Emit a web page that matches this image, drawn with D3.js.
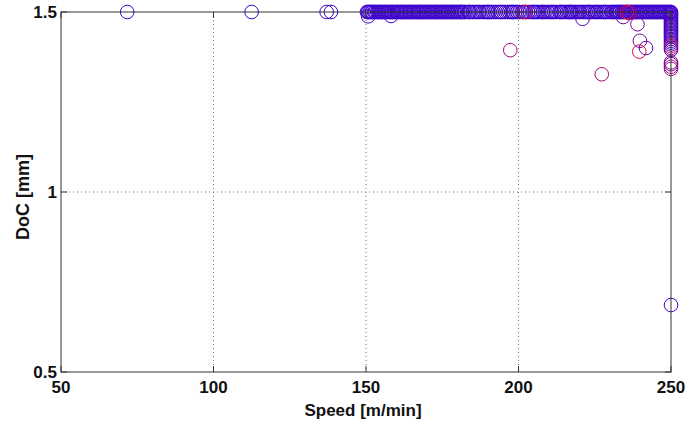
<html>
<head>
<style>
  body { margin: 0; background: #fff; }
  text { font-family: "Liberation Sans", Arial, sans-serif; font-weight: bold; fill: #111; }
</style>
</head>
<body>
  <script src="https://d3js.org/d3.v7.min.js"></script>
  <div id="div1"></div>
  <script>
    // tick labels
    const xTicks = [50, 100, 150, 200, 250];
    const yTicks = [0.5, 1, 1.5];

    // speeds of all points sitting at DoC = 1.5 mm
    const topSpeeds = [71.7, 112.5, 137.1, 138.5,
      150.3, 150.6, 150.8, 151.2, 151.5, 151.9, 152.1, 152.6, 152.9, 153.2, 153.7, 154.0, 154.3, 154.8, 155.1, 155.4,
      155.9, 156.2, 156.5, 156.9, 157.3, 157.6, 158.0, 158.4, 158.7, 159.1, 159.4, 159.9, 160.2, 160.5, 160.9, 161.3,
      161.6, 162.0, 162.3, 162.8, 163.1, 163.4, 163.9, 164.2, 164.6, 164.9, 165.4, 165.7, 166.0, 166.5, 166.8, 167.2,
      167.5, 167.9, 168.3, 168.6, 169.0, 169.4, 169.7, 170.2, 170.5, 170.8, 171.3, 171.6, 172.0, 172.4, 172.7, 173.1,
      173.5, 173.8, 174.3, 174.6, 175.0, 175.3, 175.8, 176.1, 176.5, 176.9, 177.2, 177.7, 178.0, 178.3, 178.8, 179.1,
      179.5, 179.9, 180.2, 180.7, 181.0, 181.4, 181.7, 182.2, 182.6,
      183.5, 183.8, 184.2, 185.0, 185.6, 186.2, 186.9, 187.3, 188.0, 188.6, 189.2, 189.8, 190.1, 190.5, 191.2, 191.8,
      192.5, 193.2, 193.9, 194.3, 195.0, 195.7, 196.4, 197.0, 197.6, 198.0, 198.3, 199.0, 199.6, 200.3, 201.3, 201.7,
      202.4, 203.1, 203.8, 204.6, 205.0, 205.4, 206.0, 206.6, 207.3, 207.9, 208.2, 208.8, 209.5, 210.1, 210.7, 211.1,
      211.7, 212.4, 213.4, 213.8, 214.1, 214.7, 215.3, 215.9, 216.4, 216.8, 217.1, 217.5, 218.0, 218.6, 219.2, 219.8,
      220.2, 220.8, 221.4, 222.0, 222.6, 223.0, 223.3, 223.8, 224.4, 225.0, 225.5, 225.9, 226.5, 227.1, 227.8, 228.2,
      228.6, 229.1, 229.7, 230.4, 230.7, 231.1,
      231.6, 232.0, 232.3, 232.7, 233.1, 233.4, 233.9, 234.2, 234.6, 235.0, 235.3, 235.8, 236.1, 236.5, 236.9, 237.2,
      237.7, 238.0, 238.4, 238.8, 239.1, 239.6, 239.9, 240.3, 240.7, 241.0, 241.5, 241.8, 242.2, 242.6, 242.9, 243.4,
      243.7, 244.1, 244.5, 244.8, 245.3, 245.6, 246.0, 246.4, 246.7, 247.2, 247.5, 247.9, 248.3, 248.6, 249.1, 249.4,
      249.8, 250.0];

    // DoC values of the points at the max speed 250 m/min
    const maxSpeedDoc = [1.497, 1.493, 1.490, 1.486, 1.482, 1.478, 1.474, 1.470, 1.466, 1.462, 1.458, 1.454, 1.450,
      1.446, 1.442, 1.438, 1.434, 1.430, 1.425, 1.420, 1.415, 1.410, 1.405, 1.400, 1.395, 1.360, 1.355, 1.348, 1.342];
    const maxSpeedTone = [0.05, 0.05, 0.2, 0.05, 0.05, 0.3, 0.05, 0.05, 0.2, 0.05, 0.05, 0.4, 0.05,
      0.05, 0.2, 0.05, 0.05, 0.2, 0.05, 0.3, 0.05, 0.2, 0.9, 0.4, 0.2, 0.5, 0.3, 0.6, 0.5];

    // remaining scattered points
    const otherSpeed = [150.7, 158.2, 202.2, 221.0, 234.3, 235.5, 236.3, 239.0, 239.8, 241.8, 239.6, 197.3, 227.3, 250.0];
    const otherDoc   = [1.488, 1.489, 1.500, 1.481, 1.486, 1.500, 1.497, 1.466, 1.420, 1.400, 1.390, 1.394, 1.327, 0.686];
    const otherTone  = [0.05, 0.05, 0.85, 0.2, 0.3, 0.9, 0.8, 0.35, 0.4, 0.2, 0.9, 0.6, 0.6, 0.1];

    const width = 700;
    const height = 425;
    const mLeft = 61, mRight = 671, mTop = 12, mBottom = 372;

    var svg1 = d3.select("#div1")
                 .append("svg")
                 .attr("width", width)
                 .attr("height", height)
                 .style("display", "block");

    let xScale = d3.scaleLinear().domain([50, 250]).range([mLeft, mRight]);
    let yScale = d3.scaleLinear().domain([0.5, 1.5]).range([mBottom, mTop]);
    let toneScale = d3.scaleLinear().domain([0, 1]).range(["#3300d4", "#ea1038"]);

    // dotted grid
    xTicks.slice(1, -1).forEach(t => {
      svg1.append("line")
          .attr("x1", xScale(t)).attr("x2", xScale(t))
          .attr("y1", mTop).attr("y2", mBottom)
          .style("stroke", "#777")
          .style("stroke-dasharray", "1,3");
    });
    yTicks.slice(1, -1).forEach(t => {
      svg1.append("line")
          .attr("x1", mLeft).attr("x2", mRight)
          .attr("y1", yScale(t)).attr("y2", yScale(t))
          .style("stroke", "#777")
          .style("stroke-dasharray", "1,3");
    });

    // circles
    function dot(s, d, tone) {
      svg1.append("circle")
          .attr("cx", xScale(s))
          .attr("cy", yScale(d))
          .attr("r", 6.8)
          .style("fill", "none")
          .style("stroke", toneScale(tone))
          .style("stroke-width", 1);
    }
    topSpeeds.forEach(s => dot(s, 1.5, 0.05));
    maxSpeedDoc.forEach((d, i) => dot(250, d, maxSpeedTone[i]));
    otherSpeed.forEach((s, i) => dot(s, otherDoc[i], otherTone[i]));

    // box and ticks on top
    svg1.append("rect")
        .attr("x", mLeft).attr("y", mTop)
        .attr("width", mRight - mLeft).attr("height", mBottom - mTop)
        .style("fill", "none")
        .style("stroke", "#333")
        .style("stroke-width", 1);
    xTicks.forEach(t => {
      svg1.append("line").attr("x1", xScale(t)).attr("x2", xScale(t))
          .attr("y1", mBottom).attr("y2", mBottom - 6).style("stroke", "#333");
      svg1.append("line").attr("x1", xScale(t)).attr("x2", xScale(t))
          .attr("y1", mTop).attr("y2", mTop + 6).style("stroke", "#333");
      svg1.append("text")
          .attr("x", xScale(t)).attr("y", 393)
          .attr("text-anchor", "middle")
          .style("font-size", "17px")
          .text(t);
    });
    yTicks.forEach(t => {
      svg1.append("line").attr("x1", mLeft).attr("x2", mLeft + 6)
          .attr("y1", yScale(t)).attr("y2", yScale(t)).style("stroke", "#333");
      svg1.append("line").attr("x1", mRight).attr("x2", mRight - 6)
          .attr("y1", yScale(t)).attr("y2", yScale(t)).style("stroke", "#333");
      svg1.append("text")
          .attr("x", 57).attr("y", yScale(t) + 6)
          .attr("text-anchor", "end")
          .style("font-size", "17px")
          .text(t);
    });

    // axis labels
    svg1.append("text")
        .attr("x", 363).attr("y", 416)
        .attr("text-anchor", "middle")
        .style("font-size", "17px")
        .text("Speed [m/min]");
    svg1.append("text")
        .attr("transform", "translate(29,197) rotate(-90)")
        .attr("text-anchor", "middle")
        .style("font-size", "18px")
        .text("DoC [mm]");
  </script>
</body>
</html>
